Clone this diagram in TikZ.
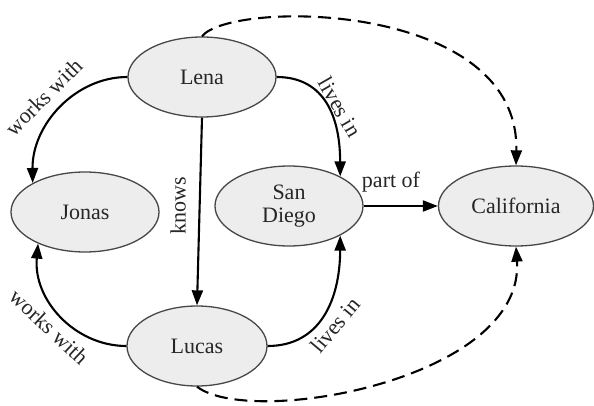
\documentclass[tikz,border=0pt]{standalone}
\usepackage{fontspec}
\setmainfont{Liberation Serif}
\usetikzlibrary{shapes.geometric,arrows.meta}
\begin{document}
\begin{tikzpicture}[x=1pt,y=-1pt,
  concept/.style={ellipse, draw=black!72, line width=1.3pt, fill=black!7,
    inner sep=0pt, minimum width=148pt, minimum height=80pt,
    font=\fontsize{22}{23}\selectfont, text=black!85, align=center},
  rel/.style={line width=2.1pt, -{Triangle[length=15pt,width=11pt]}},
  inferred/.style={rel, dash pattern=on 13pt off 7pt},
  lbl/.style={font=\fontsize{22}{23}\selectfont, text=black!85, inner sep=0pt}]
\useasboundingbox (0,0) rectangle (594,406);

% concepts
\node[concept] (lena) at (202,77) {Lena};
\node[concept] (jonas) at (85,212) {Jonas};
\node[concept] (sd) at (289,206) {San\\Diego};
\node[concept, minimum width=155pt] (cal) at (516,206) {California};
\node[concept, minimum width=140pt] (lucas) at (197,346) {Lucas};

% stated relations
\draw[rel] (lena.west) .. controls (75,77) and (32,125) .. (jonas.151);
\draw[rel] (lucas.west) .. controls (75,346) and (33,300) .. (jonas.214);
\draw[rel] (lena.south) -- (lucas.north);
\draw[rel] (lena.east) .. controls (320,77) and (340,110) .. (sd.30);
\draw[rel] (lucas.east) .. controls (320,346) and (340,300) .. (sd.-30);
\draw[rel] (sd.east) -- (cal.west);

% inferred relations
\draw[inferred] (lena.north) .. controls (230,0) and (520,0) .. (cal.north);
\draw[inferred] (lucas.south) .. controls (250,428) and (525,380) .. (cal.south);

% relation labels
\node[lbl, rotate=45] (l1) at (44,97) {works with};
\node[lbl, rotate=-43] (l2) at (49,327) {works with};
\node[lbl, rotate=90] (l3) at (178,206) {knows};
\node[lbl, rotate=-60] (l4) at (340,107) {lives in};
\node[lbl, rotate=50] (l5) at (335,325) {lives in};
\node[lbl] (l6) at (391,182) {part of};
\end{tikzpicture}
\end{document}
